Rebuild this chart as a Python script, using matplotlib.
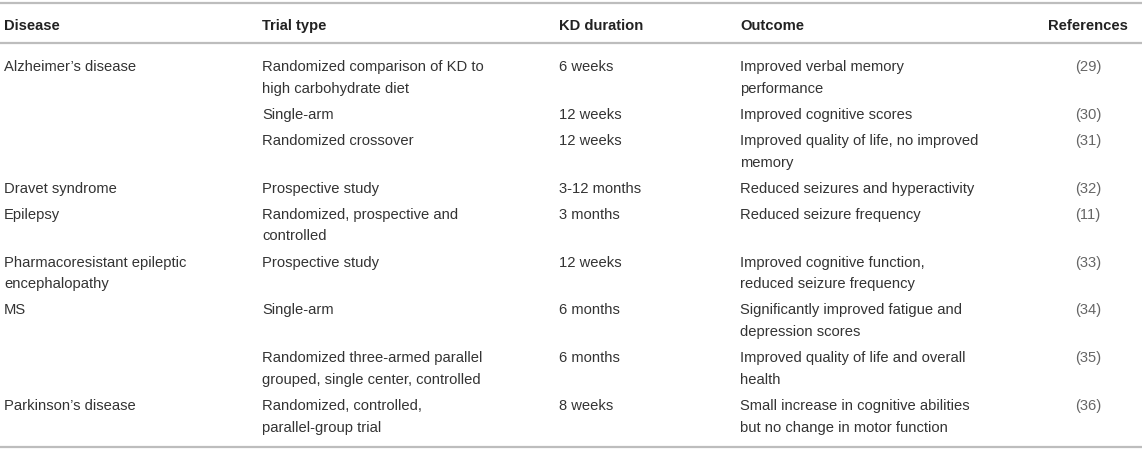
# ----- KD clinical trials table -----

import matplotlib.pyplot as plt

plt.rcParams['font.family'] = ['Liberation Sans', 'DejaVu Sans']

# ----- Table Content -----

headers = ['Disease', 'Trial type', 'KD duration', 'Outcome', 'References']

diseases = ["Alzheimer’s disease", '', '', 'Dravet syndrome', 'Epilepsy',
            'Pharmacoresistant epileptic\nencephalopathy', 'MS', '',
            'Parkinson’s disease']
trial_types = ['Randomized comparison of KD to\nhigh carbohydrate diet',
               'Single-arm',
               'Randomized crossover',
               'Prospective study',
               'Randomized, prospective and\ncontrolled',
               'Prospective study',
               'Single-arm',
               'Randomized three-armed parallel\ngrouped, single center, controlled',
               'Randomized, controlled,\nparallel-group trial']
durations = ['6 weeks', '12 weeks', '12 weeks', '3-12 months', '3 months',
             '12 weeks', '6 months', '6 months', '8 weeks']
outcomes = ['Improved verbal memory\nperformance',
            'Improved cognitive scores',
            'Improved quality of life, no improved\nmemory',
            'Reduced seizures and hyperactivity',
            'Reduced seizure frequency',
            'Improved cognitive function,\nreduced seizure frequency',
            'Significantly improved fatigue and\ndepression scores',
            'Improved quality of life and overall\nhealth',
            'Small increase in cognitive abilities\nbut no change in motor function']
references = ['(29)', '(30)', '(31)', '(32)', '(11)', '(33)', '(34)', '(35)', '(36)']

# ----- Layout -----

W, H = 1142, 451
col_x = [4, 262, 559, 740]
ref_x = 1088
line_h = 21.7
row_gap = 4.4
fs = 10.6
body_col = '#333333'
ref_col = '#666666'
rule_col = '#bdbdbd'

fig = plt.figure(figsize=(W / 100, H / 100), dpi=100)
ax = fig.add_axes([0, 0, 1, 1])
ax.set_xlim(0, W)
ax.set_ylim(H, 0)
ax.axis('off')

# -- Rules --
for y in [3, 43, 447]:
    ax.plot([0, W], [y, y], color=rule_col, lw=1.6, solid_capstyle='butt')

# -- Header --
for x, h in zip(col_x, headers[:4]):
    ax.text(x, 26, h, fontsize=fs, fontweight='bold', color='#222222',
            ha='left', va='center')
ax.text(ref_x, 26, headers[4], fontsize=fs, fontweight='bold', color='#222222',
        ha='center', va='center')

# -- Body --
y = 67
for row in zip(diseases, trial_types, durations, outcomes, references):
    n_lines = max(cell.count('\n') + 1 for cell in row)
    for x, cell in zip(col_x, row[:4]):
        for i, line in enumerate(cell.split('\n')):
            if line:
                ax.text(x, y + i * line_h, line, fontsize=fs, color=body_col,
                        ha='left', va='center')
    ax.text(ref_x, y, row[4], fontsize=fs, color=ref_col, ha='center', va='center')
    y += n_lines * line_h + row_gap

fig.savefig('out.png', dpi=100, facecolor='white')
